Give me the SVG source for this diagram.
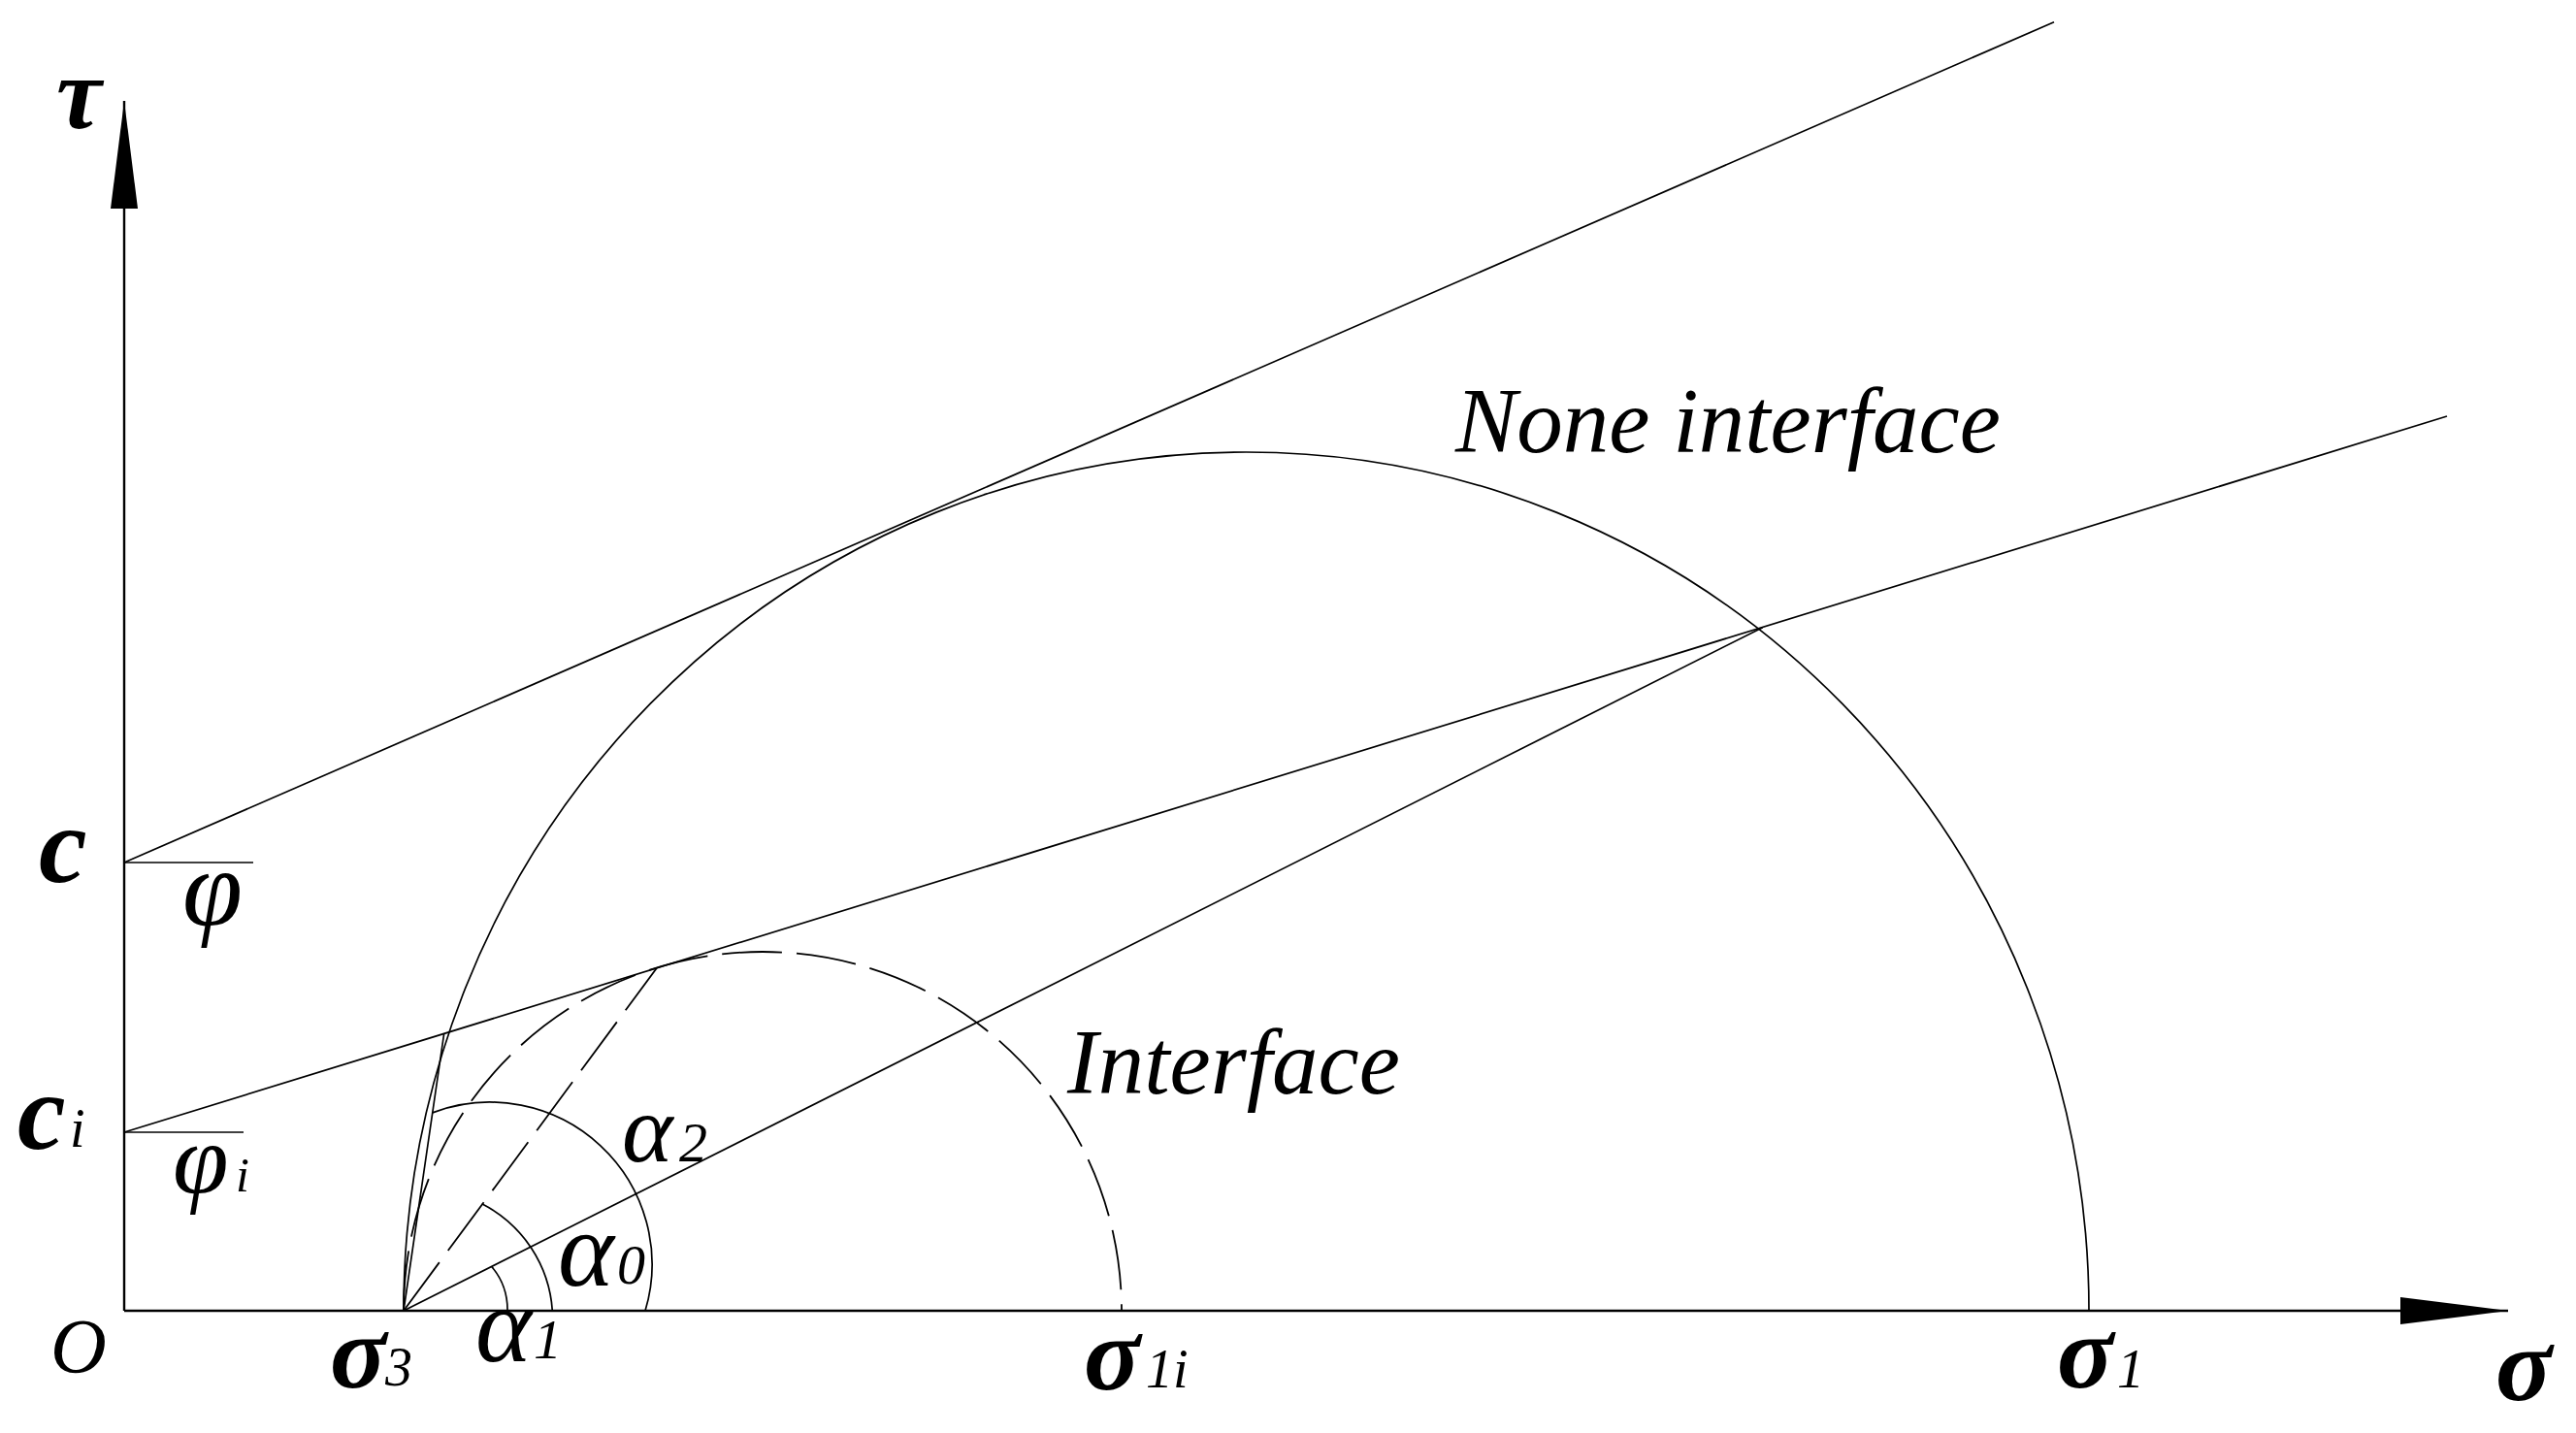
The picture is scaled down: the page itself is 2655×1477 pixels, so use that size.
<svg xmlns="http://www.w3.org/2000/svg" width="2655" height="1477" viewBox="0 0 2655 1477">
<style>
.ax{stroke:#000;stroke-width:2.4;fill:none}
.ln{stroke:#000;stroke-width:1.7;fill:none}
.ds{stroke:#000;stroke-width:1.8;fill:none;stroke-dasharray:62 15}
text{font-family:"Liberation Serif","Times New Roman",serif;font-style:italic;fill:#000}
.b{font-weight:bold}
</style>
<defs>
<marker id="arr" viewBox="0 0 111 28" refX="111" refY="14" markerWidth="111" markerHeight="28" markerUnits="userSpaceOnUse" orient="auto">
<path d="M0,0 L111,14 L0,28 Z" fill="#000"/>
</marker>
</defs>
<rect width="2655" height="1477" fill="#fff"/>
<g id="axes">
<line class="ax" x1="128" y1="1351" x2="128" y2="104" marker-end="url(#arr)"/>
<line class="ax" x1="128" y1="1351" x2="2585" y2="1351" marker-end="url(#arr)"/>
</g>
<g id="circle-none-interface">
<path class="ln" d="M416,1351 A868.5,885 0 0 1 2153,1351"/>
</g>
<g id="circle-interface">
<path class="ds" d="M416,1351 A370,370 0 0 1 1156,1351"/>
</g>
<g id="connectors">
<line class="ln" x1="128" y1="889" x2="2117" y2="22.7"/>
<line class="ln" x1="128" y1="1167" x2="2522" y2="429"/>
<line class="ln" x1="128" y1="889" x2="261" y2="889"/>
<line class="ln" x1="128" y1="1167" x2="251" y2="1167"/>
<line class="ln" x1="416" y1="1351" x2="1816.7" y2="646.7"/>
<line class="ln" x1="416" y1="1351" x2="457.7" y2="1065"/>
<line class="ds" x1="416" y1="1351" x2="676.7" y2="998"/>
<path class="ln" d="M506.7,1305.4 A69,69 0 0 1 523,1351"/>
<path class="ln" d="M496.7,1240.7 A134,134 0 0 1 569.3,1351"/>
<path class="ln" d="M445.8,1146.9 A167,167 0 0 1 665,1351"/>
</g>
<g id="labels">
<text class="b" x="58" y="132" font-size="105">τ</text>
<text class="b" x="40" y="909" font-size="112">c</text>
<text x="188" y="953" font-size="112">φ</text>
<text class="b" x="18" y="1184" font-size="112">c</text>
<text x="72" y="1182" font-size="56">i</text>
<text x="178" y="1230" font-size="104">φ</text>
<text x="243" y="1228" font-size="50">i</text>
<text x="52" y="1415" font-size="80">O</text>
<text class="b" x="340" y="1430" font-size="108">σ</text>
<text x="397" y="1428" font-size="56">3</text>
<text x="490" y="1403" font-size="110">α</text>
<text x="550" y="1400" font-size="58">1</text>
<text x="575" y="1325" font-size="110">α</text>
<text x="636" y="1323" font-size="58">0</text>
<text x="641" y="1197" font-size="100">α</text>
<text x="700" y="1197" font-size="58">2</text>
<text class="b" x="1117" y="1432" font-size="108">σ</text>
<text x="1181" y="1430" font-size="56">1i</text>
<text class="b" x="2120" y="1430" font-size="108">σ</text>
<text x="2182" y="1430" font-size="56">1</text>
<text class="b" x="2572" y="1443" font-size="108">σ</text>
<text x="1500" y="466" font-size="95">None interface</text>
<text x="1100" y="1127" font-size="95">Interface</text>
</g>
</svg>
